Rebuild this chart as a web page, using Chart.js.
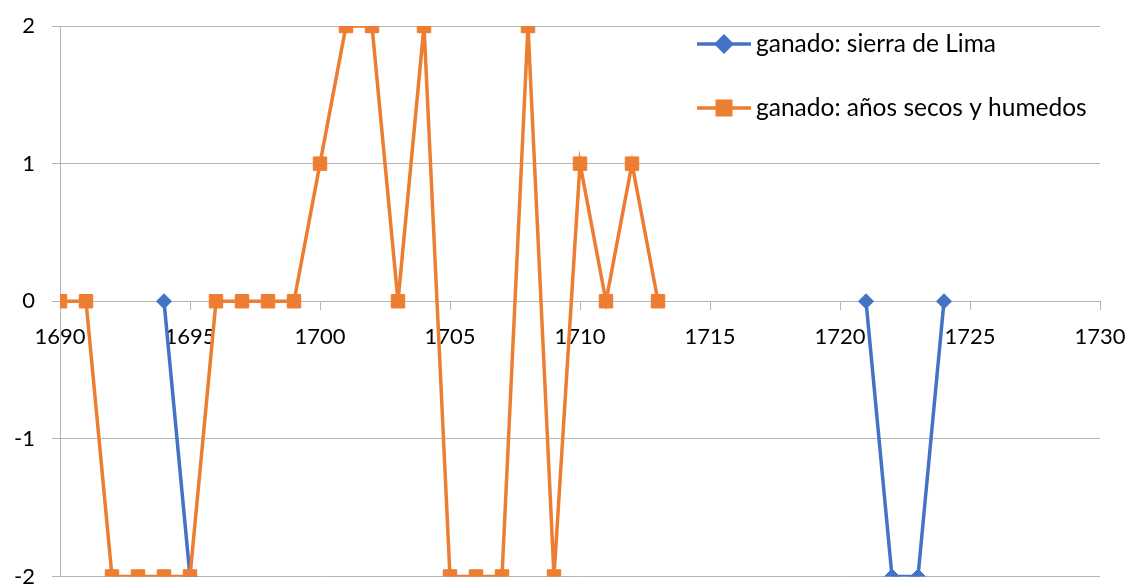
<!DOCTYPE html>
<html>
<head>
<meta charset="utf-8">
<script src="https://cdn.jsdelivr.net/npm/chart.js@4/dist/chart.umd.min.js"></script>
<style>
  html, body { margin: 0; padding: 0; background: #ffffff; }
  #wrap { position: relative; width: 1130px; height: 587px; }
</style>
</head>
<body>
<div id="wrap"><canvas id="c" width="1130" height="587"></canvas></div>
<script>
// ---- data ----
const years = [1690,1691,1692,1693,1694,1695,1696,1697,1698,1699,1700,1701,1702,1703,1704,1705,1706,1707,1708,1709,1710,1711,1712,1713,1714,1715,1716,1717,1718,1719,1720,1721,1722,1723,1724];
const sierraLima = [null,null,null,null,0,-2,null,null,null,null,null,null,null,null,null,null,null,null,null,null,null,null,null,null,null,null,null,null,null,null,null,0,-2,-2,0];
const secosHumedos = [0,0,-2,-2,-2,-2,0,0,0,0,1,2,2,0,2,-2,-2,-2,2,-2,1,0,1,0,null,null,null,null,null,null,null,null,null,null,null];
const seriesNames = ['ganado: sierra de Lima', 'ganado: años secos y humedos'];
const xMin = 1690, xMax = 1730, xStep = 5;
const yMin = -2, yMax = 2, yStep = 1;

const BLUE = '#4472C4';
const ORANGE = '#ED7D31';
const GRID = '#B4B4B4';
const FONT = 'Lato, "Open Sans", sans-serif';

const toPts = (vals) => years.map((x, i) => ({x: x, y: vals[i]}));

const legendPlugin = {
  id: 'xlLegend',
  afterDraw(chart) {
    const ctx = chart.ctx;
    const items = [
      {text: seriesNames[0], color: BLUE, style: 'rectRot', r: 7.5, y: 44},
      {text: seriesNames[1], color: ORANGE, style: 'rect', r: 9.5, y: 108}
    ];
    ctx.save();
    items.forEach(it => {
      ctx.strokeStyle = it.color;
      ctx.lineWidth = 3.5;
      ctx.beginPath();
      ctx.moveTo(697, it.y);
      ctx.lineTo(751, it.y);
      ctx.stroke();
      ctx.fillStyle = it.color;
      Chart.helpers.drawPoint(ctx, {pointStyle: it.style, radius: it.r, borderWidth: 1, rotation: 0}, 724, it.y);
      ctx.fill();
      ctx.fillStyle = '#000000';
      ctx.font = '24.5px ' + FONT;
      ctx.textAlign = 'left';
      ctx.textBaseline = 'middle';
      ctx.fillText(it.text, 756, it.y);
    });
    ctx.restore();
  }
};

new Chart(document.getElementById('c'), {
  type: 'line',
  data: {
    datasets: [
      {
        label: seriesNames[0],
        data: toPts(sierraLima),
        borderColor: BLUE,
        backgroundColor: BLUE,
        borderWidth: 3.5,
        pointStyle: 'rectRot',
        pointRadius: 7.5,
        pointBorderWidth: 1,
        spanGaps: false,
        tension: 0,
        order: 2
      },
      {
        label: seriesNames[1],
        data: toPts(secosHumedos),
        borderColor: ORANGE,
        backgroundColor: ORANGE,
        borderWidth: 3.5,
        pointStyle: 'rect',
        pointRadius: 9.5,
        pointBorderWidth: 1,
        spanGaps: false,
        tension: 0,
        order: 1
      }
    ]
  },
  options: {
    responsive: false,
    animation: false,
    layout: { padding: { top: 26, right: 30, bottom: 10, left: 0 } },
    plugins: {
      legend: { display: false },
      tooltip: { enabled: false }
    },
    scales: {
      x: {
        type: 'linear',
        min: xMin,
        max: xMax,
        position: { y: 0 },
        afterFit(scale) { scale.height = 0; scale.paddingLeft = 0; scale.paddingRight = 0; scale.paddingTop = 0; scale.paddingBottom = 0; },
        ticks: {
          stepSize: xStep,
          color: '#000000',
          font: { family: FONT, size: 22 },
          padding: 14,
          maxRotation: 0,
          callback: (v) => String(v)
        },
        grid: { drawOnChartArea: false, drawTicks: true, tickLength: 8, color: GRID, lineWidth: 1 },
        border: { display: true, color: GRID, width: 1 }
      },
      y: {
        type: 'linear',
        min: yMin,
        max: yMax,
        afterFit(scale) { scale.width = 60; scale.paddingTop = 0; scale.paddingBottom = 0; scale.paddingLeft = 0; scale.paddingRight = 0; },
        ticks: {
          stepSize: yStep,
          color: '#000000',
          font: { family: FONT, size: 22 },
          padding: 17,
          callback: (v) => String(v)
        },
        grid: { color: GRID, lineWidth: 1, tickLength: 8, drawTicks: true },
        border: { display: true, color: GRID, width: 1 }
      }
    }
  },
  plugins: [legendPlugin]
});
</script>
</body>
</html>
